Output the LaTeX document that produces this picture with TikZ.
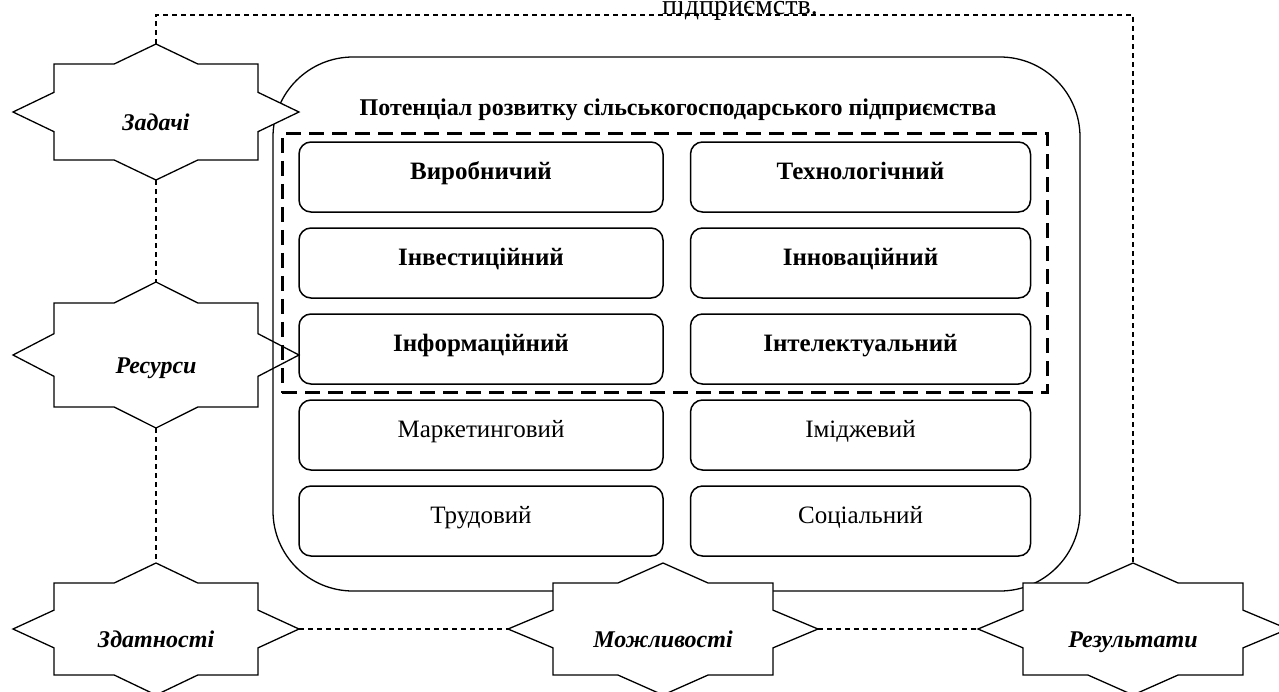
\documentclass[tikz,border=0pt]{standalone}
\usepackage{fontspec}
\setmainfont{Liberation Serif}
\usetikzlibrary{positioning,fit,calc}
\tikzset{
    block/.style={
        draw,
        rectangle,
        rounded corners=6pt,
        line width=0.75pt,
        minimum height=35pt,
        text height=9pt,
        text depth=7pt,
        font=\fontsize{12.5}{15}\selectfont
    },
    main block/.style={
        block,
        font=\fontsize{12.5}{15}\selectfont\bfseries
    },
    left block/.style={minimum width=182pt},
    right block/.style={minimum width=170pt},
    core/.style={
        draw,
        rectangle,
        line width=1.5pt,
        dash pattern=on 7.5pt off 4pt,
        inner xsep=8pt,
        inner ysep=4pt
    },
    container/.style={
        draw,
        rectangle,
        rounded corners=40pt,
        line width=0.65pt,
        minimum width=403.5pt,
        minimum height=267pt
    },
    star label/.style={
        rectangle,
        inner sep=0pt,
        text height=21pt,
        text depth=3pt,
        font=\fontsize{12}{14}\selectfont\bfseries\itshape
    },
    star line/.style={
        line width=0.65pt,
        line join=miter
    },
    link/.style={
        line width=0.6pt,
        dash pattern=on 2.5pt off 2pt
    },
}
\begin{document}
\begin{tikzpicture}[x=0.5pt, y=-0.5pt]
    \useasboundingbox (0,0) rectangle (1279,691);
    % heading left over from the text above
    \node[anchor=base, font=\fontsize{14}{16}\selectfont] (caption) at (740,14) {підприємств.};

    % container and its title
    \node[container] (potential) at (676.5,324) {};
    \node[font=\fontsize{12}{15}\selectfont\bfseries] (title) at (678,110) {Потенціал розвитку сільськогосподарського підприємства};

    % kinds of potential
    \node[main block, left block] (prod) at (481,177) {Виробничий};
    \node[main block, right block, right=13pt of prod] (tech) {Технологічний};
    \node[main block, left block, below=7.25pt of prod] (invest) {Інвестиційний};
    \node[main block, right block, right=13pt of invest] (innov) {Інноваційний};
    \node[main block, left block, below=7.25pt of invest] (info) {Інформаційний};
    \node[main block, right block, right=13pt of info] (intel) {Інтелектуальний};
    \node[block, left block, below=7.25pt of info] (market) {Маркетинговий};
    \node[block, right block, right=13pt of market] (image) {Іміджевий};
    \node[block, left block, below=7.25pt of market] (labour) {Трудовий};
    \node[block, right block, right=13pt of labour] (social) {Соціальний};
    \node[core, fit=(prod)(tech)(info)(intel)] (core) {};

    % stars
    \foreach \n/\x/\y/\w/\b/\h/\c/\f/\t in {
        tasks/156/112/143/102/68/48/white/Задачі,
        res/156/355/143/102/73/52/none/Ресурси,
        abil/156/629/143/102/66/46/white/Здатності,
        opp/663/629/155/110/66/46/white/Можливості,
        rez/1133/629/155/110/66/46/white/Результати}
    {
        \draw[star line, fill=\f] (\x-\w,\y) -- (\x-\b,\y-0.41*\c) -- (\x-\b,\y-\c) -- (\x-0.41*\b,\y-\c)
            -- (\x,\y-\h) -- (\x+0.41*\b,\y-\c) -- (\x+\b,\y-\c) -- (\x+\b,\y-0.41*\c)
            -- (\x+\w,\y) -- (\x+\b,\y+0.41*\c) -- (\x+\b,\y+\c) -- (\x+0.41*\b,\y+\c)
            -- (\x,\y+\h) -- (\x-0.41*\b,\y+\c) -- (\x-\b,\y+\c) -- (\x-\b,\y+0.41*\c) -- cycle;
        \node[star label, minimum width=1pt*\w, minimum height=1pt*\h] (\n) at (\x,\y) {\t};
    }

    % links
    \coordinate (top) at (1133,15);
    \draw[link] (tasks.north) |- (top) -- (rez.north);
    \draw[link] (tasks.south) -- (res.north);
    \draw[link] (res.south) -- (abil.north);
    \draw[link] (abil.east) -- (opp.west);
    \draw[link] (opp.east) -- (rez.west);
\end{tikzpicture}
\end{document}
